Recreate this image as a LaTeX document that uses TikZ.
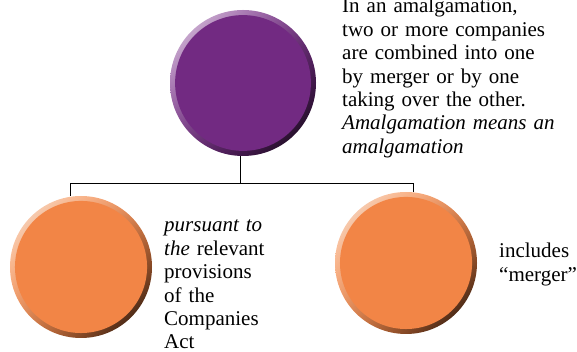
\documentclass[tikz,border=0pt]{standalone}
\usepackage{fontspec}
\setmainfont{Liberation Serif}
\usetikzlibrary{fadings,shadings}
\pgfdeclareradialshading{softdiscshade}{\pgfpointorigin}{color(0bp)=(pgftransparent!0); color(41bp)=(pgftransparent!0); color(50bp)=(pgftransparent!100)}
\pgfdeclarefading{softdisc}{\pgfuseshading{softdiscshade}}
\definecolor{purpbase}{HTML}{722A82}
\definecolor{purplight}{HTML}{E6D2EA}
\definecolor{purpdark}{HTML}{0A020C}
\definecolor{orgbase}{HTML}{F28546}
\definecolor{orglight}{HTML}{FFE6D4}
\definecolor{orgdark}{HTML}{140802}
\newcommand{\mybutton}[5]{%
  \shade[upper left=#3,lower right=#4,upper right=#5,lower left=#5] (#1) circle (#2);
  \fill[#5,path fading=softdisc] (#1) circle ({0.93*#2});
}
\begin{document}
\begin{tikzpicture}[x=1pt,y=1pt,
  conn/.style={draw=black,line width=0.9pt},
  bodytext/.style={anchor=base west,inner sep=0pt,align=left,text width=235pt,
    font=\fontsize{21pt}{23.4pt}\selectfont},
  button/.style={circle,inner sep=0pt,minimum size=#1}]
\useasboundingbox (0,0) rectangle (577,352);
\coordinate (ctop) at (243,269);
\coordinate (cleft) at (81,85);
\coordinate (cright) at (406,89);
\mybutton{ctop}{73}{purplight}{purpdark}{purpbase}
\mybutton{cleft}{71}{orglight}{orgdark}{orgbase}
\mybutton{cright}{71}{orglight}{orgdark}{orgbase}
\node[button=146pt] (top) at (ctop) {};
\node[button=142pt] (left) at (cleft) {};
\node[button=142pt] (right) at (cright) {};
% connectors
\coordinate (j) at (240,169);
\coordinate (jl) at (70,169);
\coordinate (jr) at (413,169);
\draw[conn] (j |- top.south) -- (j);
\draw[conn] (jl |- left.north) -- (jl) -- (jr) -- (jr |- right.north);
% texts
\node[bodytext] (ttop) at (342,339) {In an amalgamation,\\two or more companies\\are combined into one\\by merger or by one\\taking over the other.\\\textit{Amalgamation means an}\\\textit{amalgamation}};
\node[bodytext] (tleft) at (164,120) {\textit{pursuant to}\\\textit{the} relevant\\provisions\\of the\\Companies\\Act};
\node[bodytext] (tright) at (499,94) {includes\\“merger”};
\end{tikzpicture}
\end{document}
